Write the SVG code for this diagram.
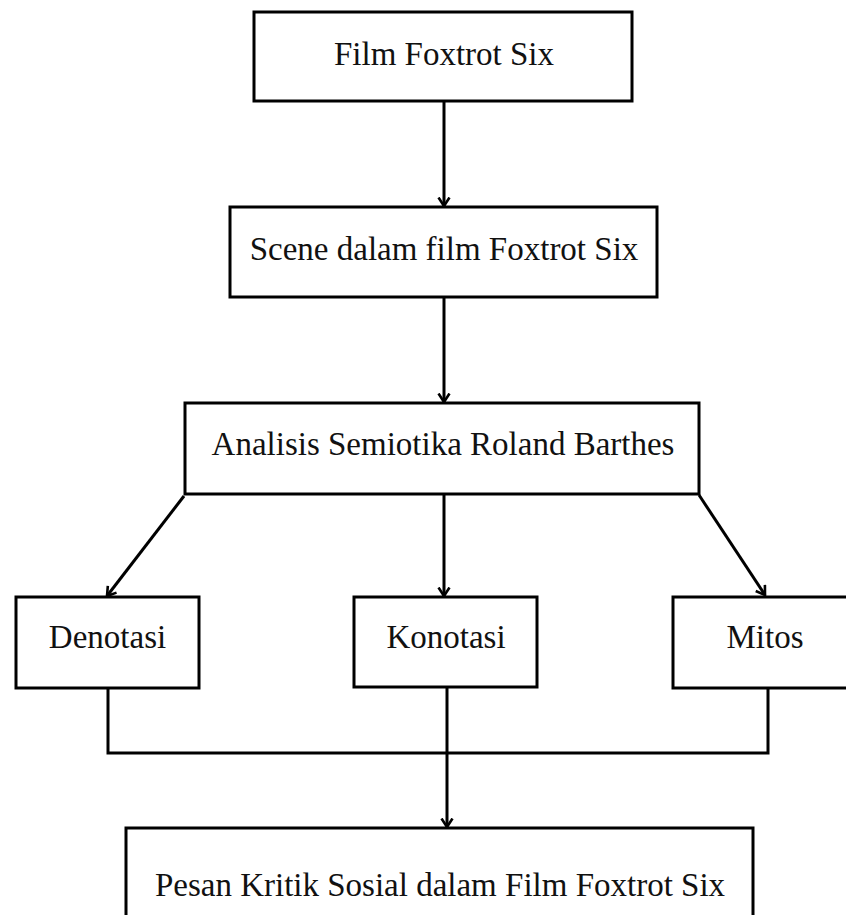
<svg xmlns="http://www.w3.org/2000/svg" width="846" height="915" viewBox="0 0 846 915">
<defs>
<style>
.box{fill:#fff;stroke:#000;stroke-width:3}
.lbl{font-family:"Liberation Serif","Times New Roman",serif;font-size:33px;fill:#111;text-anchor:middle}
.con{fill:none;stroke:#000;stroke-width:3}
</style>
<marker id="ah" viewBox="-1 -7 11 14" refX="8.5" refY="0" markerWidth="11" markerHeight="14" markerUnits="userSpaceOnUse" orient="auto">
<path d="M0,-5.5 L8.5,0 L0,5.5" fill="none" stroke="#000" stroke-width="2.6"/>
</marker>
</defs>
<rect width="846" height="915" fill="#fff"/>
<g id="connectors">
<line class="con" x1="444" y1="101" x2="444" y2="206" marker-end="url(#ah)"/>
<line class="con" x1="444" y1="297" x2="444" y2="402" marker-end="url(#ah)"/>
<line class="con" x1="444" y1="494" x2="444" y2="596" marker-end="url(#ah)"/>
<line class="con" x1="184" y1="496" x2="107" y2="596" marker-end="url(#ah)"/>
<line class="con" x1="699" y1="495" x2="765" y2="595" marker-end="url(#ah)"/>
<polyline class="con" points="108,689 108,753 768,753 768,689"/>
<line class="con" x1="447" y1="688" x2="447" y2="827" marker-end="url(#ah)"/>
</g>
<g id="film">
<rect class="box" x="254" y="12" width="378" height="89"/>
<text class="lbl" x="444" y="65">Film Foxtrot Six</text>
</g>
<g id="scene">
<rect class="box" x="230" y="207" width="427" height="90"/>
<text class="lbl" x="444" y="260">Scene dalam film Foxtrot Six</text>
</g>
<g id="analisis">
<rect class="box" x="185" y="403" width="514" height="91"/>
<text class="lbl" x="443" y="455">Analisis Semiotika Roland Barthes</text>
</g>
<g id="denotasi">
<rect class="box" x="16" y="597" width="183" height="91"/>
<text class="lbl" x="107.5" y="648">Denotasi</text>
</g>
<g id="konotasi">
<rect class="box" x="354" y="597" width="183" height="90"/>
<text class="lbl" x="446" y="648">Konotasi</text>
</g>
<g id="mitos">
<rect class="box" x="673" y="597" width="184" height="91"/>
<text class="lbl" x="765" y="648">Mitos</text>
</g>
<g id="pesan">
<rect class="box" x="126" y="828" width="627" height="100"/>
<text class="lbl" x="440" y="896">Pesan Kritik Sosial dalam Film Foxtrot Six</text>
</g>
</svg>
